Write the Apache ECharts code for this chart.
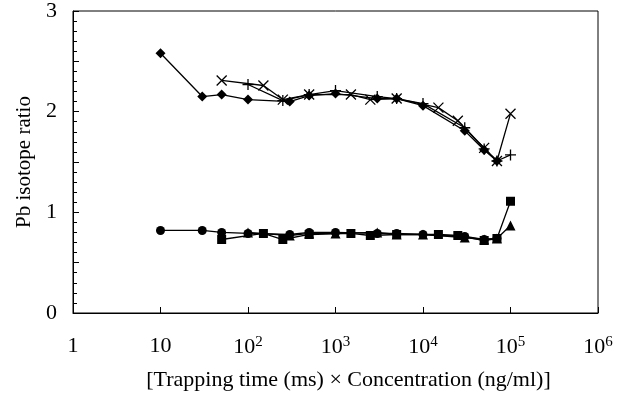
<!DOCTYPE html>
<html>
<head>
<meta charset="UTF-8">
<title>Pb isotope ratio</title>
<script src="https://cdn.jsdelivr.net/npm/echarts@6/dist/echarts.min.js"></script>
</head>
<body style="margin:0;background:#fff;">
<div id="main" style="width:628px;height:396px;"></div>
<script>
// upper group (ratio ~2)
var diamondX = [10, 30, 50, 100, 300, 500, 1000, 3000, 5000, 10000, 30000, 50000, 70000];
var diamondY = [2.58, 2.15, 2.17, 2.12, 2.10, 2.16, 2.18, 2.13, 2.13, 2.06, 1.81, 1.62, 1.51];
var crossX = [50, 150, 250, 500, 1500, 2500, 5000, 15000, 25000, 50000, 70000, 100000];
var crossY = [2.31, 2.26, 2.12, 2.17, 2.17, 2.12, 2.13, 2.04, 1.91, 1.64, 1.51, 1.98];
var plusX = [100, 250, 500, 1000, 3000, 5000, 10000, 30000, 50000, 70000, 100000];
var plusY = [2.27, 2.11, 2.17, 2.21, 2.15, 2.13, 2.08, 1.84, 1.63, 1.51, 1.57];
// lower group (ratio ~0.8)
var circleX = [10, 30, 50, 100, 300, 500, 1000, 3000, 5000, 10000, 30000, 50000, 70000];
var circleY = [0.82, 0.82, 0.80, 0.79, 0.78, 0.80, 0.80, 0.79, 0.79, 0.78, 0.76, 0.73, 0.74];
var squareX = [50, 150, 250, 500, 1500, 2500, 5000, 15000, 25000, 50000, 70000, 100000];
var squareY = [0.73, 0.79, 0.73, 0.78, 0.79, 0.77, 0.78, 0.78, 0.77, 0.72, 0.74, 1.11];
var triX = [100, 300, 500, 1000, 3000, 5000, 10000, 30000, 50000, 70000, 100000];
var triY = [0.80, 0.77, 0.79, 0.79, 0.80, 0.78, 0.78, 0.75, 0.73, 0.74, 0.87];

function pairs(xs, ys) {
    return xs.map(function (x, i) { return [x, ys[i]]; });
}

var font = 'Liberation Serif';

function filled(name, xs, ys, symbol, size) {
    return {
        name: name, type: 'line', data: pairs(xs, ys),
        symbol: symbol, symbolSize: size, showSymbol: true,
        lineStyle: {color: '#000', width: 1.3},
        itemStyle: {color: '#000'}
    };
}
function stroked(name, xs, ys, path, size) {
    return {
        name: name, type: 'line', data: pairs(xs, ys),
        symbol: path, symbolSize: size, showSymbol: true,
        lineStyle: {color: '#000', width: 1.3},
        itemStyle: {color: 'none', borderColor: '#000', borderWidth: 1.3}
    };
}

var chart = echarts.init(document.getElementById('main'));
chart.setOption({
    animation: false,
    grid: {left: 73, top: 10, right: 30, bottom: 83, show: true, borderColor: '#000', borderWidth: 1},
    xAxis: {
        type: 'log', logBase: 10, min: 1, max: 1000000,
        name: '[Trapping time (ms) \u00d7 Concentration (ng/ml)]',
        nameLocation: 'middle', nameGap: 56,
        nameTextStyle: {fontFamily: font, fontSize: 22, color: '#000', padding: [0, 0, 0, 26]},
        axisLine: {lineStyle: {color: '#000', width: 1}},
        axisTick: {inside: true, length: 6, lineStyle: {color: '#000'}},
        splitLine: {show: false},
        axisLabel: {
            margin: 22, color: '#000', fontFamily: font, fontSize: 22,
            formatter: function (v) {
                var e = Math.round(Math.log10(v));
                if (e === 0) return '1';
                if (e === 1) return '10';
                return '10{sup|' + e + '}';
            },
            rich: {sup: {fontFamily: font, fontSize: 15, color: '#000', verticalAlign: 'top', padding: [0, 0, 9, 0]}}
        }
    },
    yAxis: {
        type: 'value', min: 0, max: 3, interval: 0.5,
        name: 'Pb isotope ratio',
        nameLocation: 'middle', nameGap: 38,
        nameTextStyle: {fontFamily: font, fontSize: 21, color: '#000'},
        axisLine: {show: true, lineStyle: {color: '#000', width: 1}},
        axisTick: {inside: true, length: 6, lineStyle: {color: '#000'}},
        minorTick: {show: true, splitNumber: 5, length: 4, lineStyle: {color: '#000'}},
        splitLine: {show: false},
        axisLabel: {
            margin: 16, color: '#000', fontFamily: font, fontSize: 22,
            formatter: function (v) { return v % 1 === 0 ? String(v) : ''; }
        }
    },
    series: [
        filled('diamond', diamondX, diamondY, 'diamond', 10),
        stroked('cross', crossX, crossY, 'path://M0,0L10,10M10,0L0,10', 10),
        stroked('plus', plusX, plusY, 'path://M5,0L5,10M0,5L10,5', 11),
        filled('circle', circleX, circleY, 'circle', 9),
        filled('square', squareX, squareY, 'rect', 9),
        filled('triangle', triX, triY, 'triangle', 10)
    ]
});
</script>
</body>
</html>
